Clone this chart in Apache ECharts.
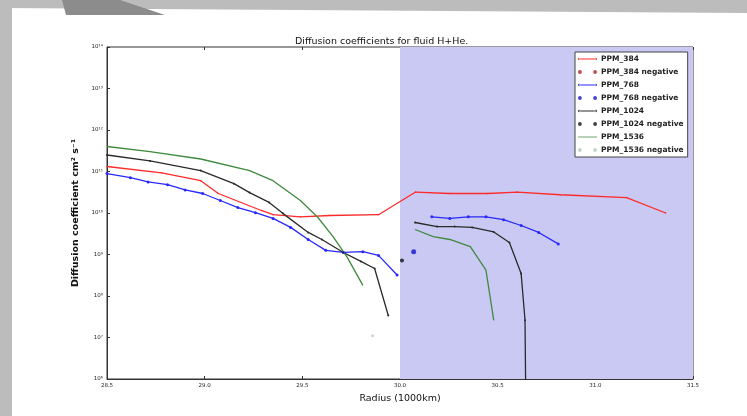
<!DOCTYPE html>
<html><head><meta charset="utf-8">
<script src="https://cdn.jsdelivr.net/npm/echarts@6/dist/echarts.min.js"></script>
<style>html,body{margin:0;padding:0;background:#fff}#c{width:747px;height:416px}</style>
</head><body><div id="c"></div>
<script>
// ---- data ----
var xTicks = [28.5, 29.0, 29.5, 30.0, 30.5, 31.0, 31.5];
var yTickExp = ['10⁶','10⁷','10⁸','10⁹','10¹⁰','10¹¹','10¹²','10¹³','10¹⁴'];

var r384X = [28.5, 28.78, 28.98, 29.07, 29.29, 29.35, 29.49, 29.64, 29.89, 30.08, 30.255, 30.45, 30.6, 30.82, 31.16, 31.36];
var r384Y = [1.32e11, 9.3e10, 6.0e10, 2.95e10, 1.15e10, 9.1e9, 8.1e9, 8.7e9, 9.1e9, 3.2e10, 2.95e10, 2.95e10, 3.2e10, 2.75e10, 2.35e10, 1.0e10];

var r768aX = [28.5, 28.62, 28.71, 28.81, 28.90, 28.99, 29.08, 29.17, 29.26, 29.35, 29.44, 29.53, 29.62, 29.71, 29.81, 29.89, 29.985];
var r768aY = [8.9e10, 7.1e10, 5.6e10, 4.8e10, 3.6e10, 2.95e10, 2.0e10, 1.35e10, 1.02e10, 7.4e9, 4.5e9, 2.3e9, 1.26e9, 1.12e9, 1.17e9, 9.5e8, 3.2e8];
var r768bX = [30.163, 30.255, 30.35, 30.44, 30.53, 30.62, 30.71, 30.81];
var r768bY = [8.1e9, 7.4e9, 8.1e9, 8.1e9, 6.9e9, 5.0e9, 3.4e9, 1.8e9];
var n768X = [30.07];
var n768Y = [1.17e9];

var r1024aX = [28.5, 28.72, 28.98, 29.15, 29.23, 29.33, 29.40, 29.53, 29.60, 29.71, 29.80, 29.87, 29.94];
var r1024aY = [2.5e11, 1.8e11, 1.05e11, 5.1e10, 3.1e10, 1.8e10, 9.8e9, 3.4e9, 2.3e9, 1.12e9, 6.8e8, 4.6e8, 3.4e7];
var r1024bX = [30.077, 30.19, 30.28, 30.37, 30.48, 30.56, 30.62, 30.64, 30.645];
var r1024bY = [5.9e9, 4.7e9, 4.7e9, 4.5e9, 3.5e9, 1.95e9, 3.5e8, 2.6e7, 1.0e5];
var n1024X = [30.01];
var n1024Y = [7.2e8];

var r1536aX = [28.5, 28.72, 28.98, 29.23, 29.35, 29.49, 29.58, 29.66, 29.73, 29.81];
var r1536aY = [4.0e11, 3.0e11, 2.0e11, 1.05e11, 6.0e10, 2.0e10, 7.8e9, 2.6e9, 8.5e8, 1.8e8];
var r1536bX = [30.077, 30.17, 30.255, 30.36, 30.44, 30.48];
var r1536bY = [4.0e9, 2.7e9, 2.3e9, 1.55e9, 4.2e8, 2.6e7];
var n1536X = [29.86];
var n1536Y = [1.1e7];

var n384X = [];
var n384Y = [];

var shadeFrom = 30.0, shadeTo = 31.5;

// ---- helpers ----
function pairs(xs, ys){ return xs.map(function(x,i){ return [x, ys[i]]; }); }
var twoDots = 'path://M0,3a2,2 0 1,0 4,0a2,2 0 1,0 -4,0M16,3a2,2 0 1,0 4,0a2,2 0 1,0 -4,0';
var lineDots = 'path://M1,2.6h18v0.8h-18zM0,3a1.2,1.2 0 1,0 2.4,0a1.2,1.2 0 1,0 -2.4,0M17.6,3a1.2,1.2 0 1,0 2.4,0a1.2,1.2 0 1,0 -2.4,0';
var lineOnly = 'path://M0,2.6h20v0.8h-20z';
var C = {r:'#ff2a2a', rn:'#b02020', b:'#2828ff', bn:'#1414c8', k:'#2a2a2a', g:'#3f8a3f', gn:'#b8ccb8'};

function lineS(name, xs, ys, color, sym, size){
  return {name:name, type:'line', data:pairs(xs,ys), symbol:sym, symbolSize:size, showSymbol:sym!=='none',
    lineStyle:{color:color, width:1.3}, itemStyle:{color:color}, clip:true, z:3, animation:false};
}
function dotS(name, xs, ys, color, size){
  return {name:name, type:'scatter', data:pairs(xs,ys), symbol:'circle', symbolSize:size,
    itemStyle:{color:color}, z:4, animation:false};
}

var chart = echarts.init(document.getElementById('c'), null, {renderer:'canvas'});
var tickFont = {fontFamily:'DejaVu Sans', fontSize:5.5, color:'#222'};

chart.setOption({
  animation:false,
  backgroundColor:'#ffffff',
  title:{text:'Diffusion coefficients for fluid H+He.', left:290, top:32,
    textStyle:{fontFamily:'DejaVu Sans', fontSize:9.5, fontWeight:'normal', color:'#111'}},
  grid:{left:107, right:54, top:47, bottom:37, show:true, borderColor:'#333', borderWidth:1, backgroundColor:'transparent'},
  graphic:[
    {type:'rect', shape:{x:0,y:0,width:12,height:416}, style:{fill:'#bcbcbc'}, z:100},
    {type:'polygon', shape:{points:[[0,0],[747,0],[747,13],[0,8]]}, style:{fill:'#bcbcbc'}, z:100},
    {type:'polygon', shape:{points:[[62,0],[120,0],[165,15],[66,15]]}, style:{fill:'#8c8c8c'}, z:101}
  ],
  legend:{
    orient:'vertical', left:575, top:52, width:113,
    backgroundColor:'#fff', borderColor:'#444', borderWidth:1, borderRadius:0,
    padding:[3,4,3,3], itemGap:5, itemWidth:19, itemHeight:7,
    textStyle:{fontFamily:'DejaVu Sans', fontSize:7.5, fontWeight:'bold', color:'#222', padding:[0,0,0,-1]},
    data:[
      {name:'PPM_384', icon:lineDots},
      {name:'PPM_384 negative', icon:twoDots},
      {name:'PPM_768', icon:lineDots},
      {name:'PPM_768 negative', icon:twoDots},
      {name:'PPM_1024', icon:lineDots},
      {name:'PPM_1024 negative', icon:twoDots},
      {name:'PPM_1536', icon:lineOnly},
      {name:'PPM_1536 negative', icon:twoDots}
    ]
  },
  xAxis:[{
    type:'value', min:xTicks[0], max:xTicks[xTicks.length-1], interval:0.5,
    name:'Radius (1000km)', nameLocation:'middle', nameGap:13,
    nameTextStyle:{fontFamily:'DejaVu Sans', fontSize:9.5, color:'#111'},
    axisLine:{lineStyle:{color:'#333'}}, axisTick:{inside:true, length:3, lineStyle:{color:'#333'}},
    axisLabel:Object.assign({margin:4, formatter:function(v){return v.toFixed(1);}}, tickFont),
    splitLine:{show:false}
  },{
    type:'value', position:'top', min:xTicks[0], max:xTicks[xTicks.length-1], interval:0.5,
    axisLine:{show:false}, axisTick:{inside:true, length:3, lineStyle:{color:'#333'}},
    axisLabel:{show:false}, splitLine:{show:false}
  }],
  yAxis:[{
    type:'log', logBase:10, min:1e6, max:1e14,
    name:'Diffusion coefficient cm² s⁻¹', nameLocation:'middle', nameGap:18, nameRotate:90,
    nameTextStyle:{fontFamily:'DejaVu Sans', fontSize:9.5, fontWeight:'bold', color:'#111'},
    axisLine:{lineStyle:{color:'#333'}}, axisTick:{inside:true, length:3, lineStyle:{color:'#333'}},
    minorTick:{show:false},
    axisLabel:Object.assign({margin:4, formatter:function(v){
      var e = Math.round(Math.log10(v)); return yTickExp[e-6] || ''; }}, tickFont),
    splitLine:{show:false}
  },{
    type:'log', logBase:10, min:1e6, max:1e14, position:'right',
    axisLine:{show:false}, axisTick:{inside:true, length:3, lineStyle:{color:'#333'}},
    axisLabel:{show:false}, splitLine:{show:false}
  }],
  series:[
    {name:'shade', type:'line', data:[], z:1, silent:true,
      markArea:{silent:true, itemStyle:{color:'#c9c9f3'}, data:[[{xAxis:shadeFrom},{xAxis:shadeTo}]]}},
    lineS('PPM_384', r384X, r384Y, C.r, 'circle', 1.5),
    dotS('PPM_384 negative', n384X, n384Y, C.rn, 4),
    lineS('PPM_768', r768aX, r768aY, C.b, 'circle', 3),
    lineS('PPM_768', r768bX, r768bY, C.b, 'circle', 3),
    dotS('PPM_768 negative', n768X, n768Y, C.bn, 5),
    lineS('PPM_1024', r1024aX, r1024aY, C.k, 'circle', 2),
    lineS('PPM_1024', r1024bX, r1024bY, C.k, 'circle', 2),
    dotS('PPM_1024 negative', n1024X, n1024Y, '#111', 4),
    lineS('PPM_1536', r1536aX, r1536aY, C.g, 'none', 0),
    lineS('PPM_1536', r1536bX, r1536bY, C.g, 'none', 0),
    dotS('PPM_1536 negative', n1536X, n1536Y, C.gn, 3)
  ]
});
</script>
</body></html>
